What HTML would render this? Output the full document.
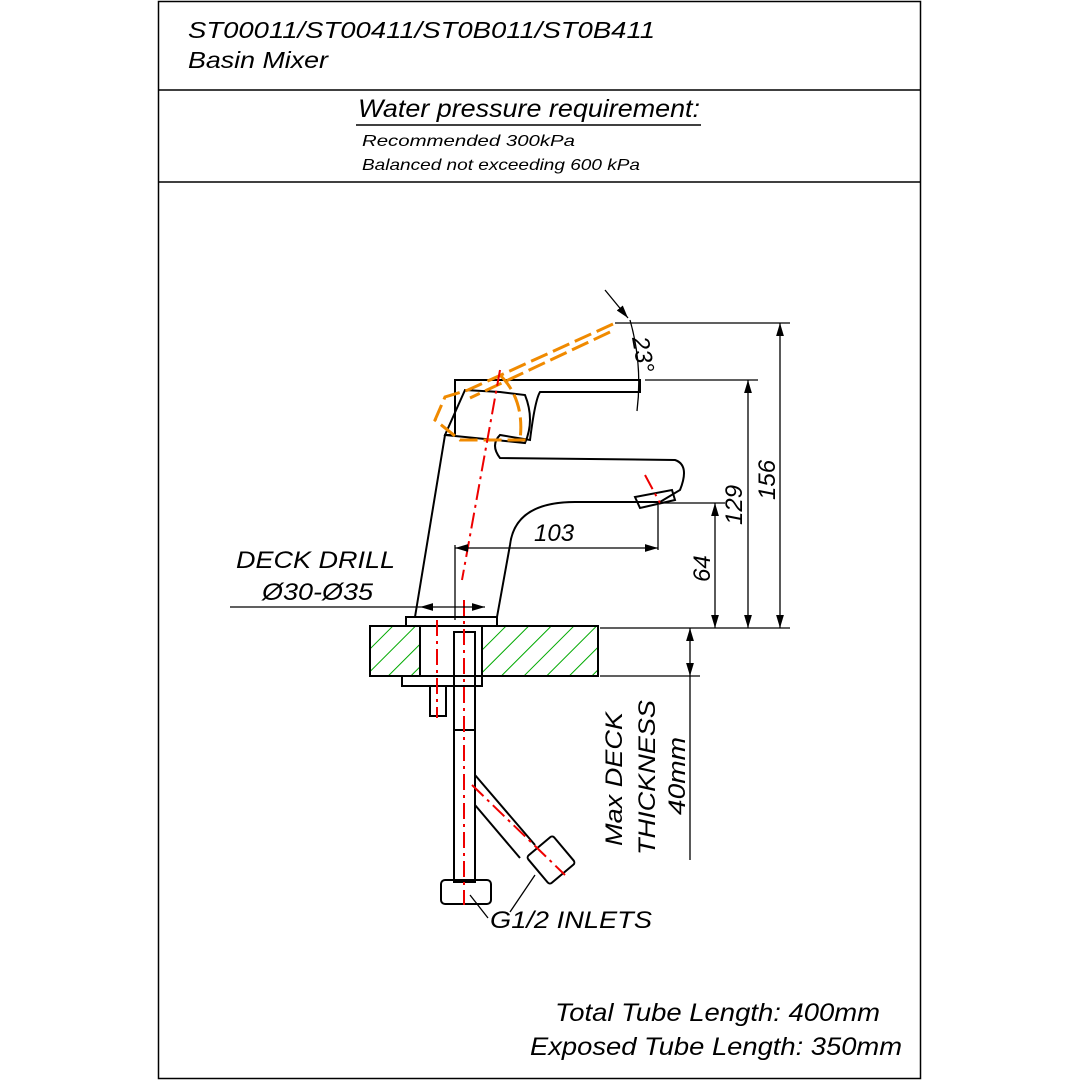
<!DOCTYPE html>
<html><head><style>body{margin:0;background:#fff}svg{display:block}text{font-family:"Liberation Sans",sans-serif;font-style:italic;fill:#000}</style></head><body>
<svg width="1080" height="1080" viewBox="0 0 1080 1080" xmlns="http://www.w3.org/2000/svg">
<defs>
<pattern id="h" width="16" height="16" patternUnits="userSpaceOnUse" patternTransform="rotate(45)"><line x1="0" y1="0" x2="0" y2="16" stroke="#0a0" stroke-width="2"/></pattern>
<marker id="a" markerWidth="10" markerHeight="6" refX="10" refY="3" orient="auto-start-reverse"><path d="M0,0L10,3L0,6z" fill="#000"/></marker>
</defs>
<rect x="158.5" y="1.5" width="762" height="1077" fill="none" stroke="#000" stroke-width="1.5"/>
<line x1="158" y1="90" x2="921" y2="90" stroke="#000" stroke-width="1.5"/>
<line x1="158" y1="182" x2="921" y2="182" stroke="#000" stroke-width="1.5"/>
<text x="188" y="38" font-size="23" textLength="467" lengthAdjust="spacingAndGlyphs">ST00011/ST00411/ST0B011/ST0B411</text>
<text x="188" y="68" font-size="23" textLength="140" lengthAdjust="spacingAndGlyphs">Basin Mixer</text>
<text x="358" y="117" font-size="25" textLength="342" lengthAdjust="spacingAndGlyphs">Water pressure requirement:</text>
<line x1="356" y1="125" x2="701" y2="125" stroke="#000" stroke-width="1.5"/>
<text x="362" y="146" font-size="16" textLength="213" lengthAdjust="spacingAndGlyphs">Recommended 300kPa</text>
<text x="362" y="170" font-size="16" textLength="278" lengthAdjust="spacingAndGlyphs">Balanced not exceeding 600 kPa</text>
<g fill="none" stroke="#000" stroke-width="2">
<rect x="370" y="626" width="228" height="50" fill="url(#h)"/>
<rect x="420" y="626" width="62" height="50" fill="#fff" stroke="none"/>
<line x1="420" y1="626" x2="420" y2="676"/><line x1="482" y1="626" x2="482" y2="676"/>
<rect x="406" y="617" width="91" height="9" fill="#fff"/>
<path d="M415,617 L445,435 L455,435 L455,380 L640,380 L640,392 L540,392 Q535,400 530,440 L500,435 Q490,445 500,458 L675,460 Q690,465 680,490 L660,502 L575,502 Q515,502 510,545 L497,617"/>
<path d="M445,435 L525,443 Q535,420 525,395 L500,392 L465,390 Z"/>
<path d="M635,497 L672,490 L675,500 L640,508 Z"/>
<rect x="454" y="632" width="21" height="250"/>
<rect x="441" y="880" width="50" height="24" rx="4"/>
<line x1="454" y1="730" x2="475" y2="730"/>
<path d="M475,775 L535,845 M475,805 L520,858"/>
<rect x="534" y="842" width="34" height="36" rx="3" transform="rotate(-40 551 860)"/>
<path d="M402,676 L482,676 L482,686 L402,686 Z"/>
<rect x="430" y="686" width="16" height="30"/>
</g>
<g fill="none" stroke="#f08a00" stroke-width="3" stroke-dasharray="18,6">
<path d="M613,324 L468,390 L445,397 L435,420 L460,440 L530,440"/>
<path d="M610,332 L470,398"/>
<path d="M500,375 Q525,400 520,440"/>
</g>
<g stroke="#e00" stroke-width="2" stroke-dasharray="16,5,3,5" fill="none">
<line x1="500" y1="370" x2="462" y2="580"/>
<line x1="464" y1="600" x2="464" y2="905"/>
<line x1="437" y1="620" x2="437" y2="718"/>
<line x1="472" y1="785" x2="565" y2="875"/>
<line x1="645" y1="475" x2="660" y2="503"/>
</g>
<g stroke="#000" stroke-width="1.3" fill="none">
<line x1="615" y1="323" x2="790" y2="323"/>
<line x1="645" y1="380" x2="758" y2="380"/>
<line x1="660" y1="503" x2="725" y2="503"/>
<line x1="600" y1="628" x2="790" y2="628"/>
<line x1="780" y1="323" x2="780" y2="628" marker-start="url(#a)" marker-end="url(#a)"/>
<line x1="748" y1="380" x2="748" y2="628" marker-start="url(#a)" marker-end="url(#a)"/>
<line x1="715" y1="503" x2="715" y2="628" marker-start="url(#a)" marker-end="url(#a)"/>
<line x1="455" y1="545" x2="455" y2="620"/>
<line x1="658" y1="505" x2="658" y2="550"/>
<line x1="455" y1="548" x2="658" y2="548" marker-start="url(#a)" marker-end="url(#a)"/>
<line x1="230" y1="607" x2="420" y2="607"/>
<line x1="420" y1="607" x2="485" y2="607" marker-start="url(#a)" marker-end="url(#a)"/>
<line x1="600" y1="676" x2="700" y2="676"/>
<line x1="690" y1="628" x2="690" y2="676" marker-start="url(#a)" marker-end="url(#a)"/>
<line x1="690" y1="676" x2="690" y2="860"/>
<path d="M637,411 A230,230 0 0 0 630,320"/>
<line x1="605" y1="290" x2="628" y2="318" marker-end="url(#a)"/>
<line x1="488" y1="918" x2="470" y2="895"/>
<line x1="510" y1="912" x2="535" y2="875"/>
</g>
<text font-size="24" transform="translate(632,338) rotate(80)">23°</text>
<text font-size="24" transform="translate(775,500) rotate(-90)">156</text>
<text font-size="24" transform="translate(742,525) rotate(-90)">129</text>
<text font-size="24" transform="translate(710,582) rotate(-90)">64</text>
<text x="534" y="541" font-size="24">103</text>
<text x="236" y="568" font-size="24" textLength="159" lengthAdjust="spacingAndGlyphs">DECK DRILL</text>
<text x="262" y="600" font-size="24" textLength="111" lengthAdjust="spacingAndGlyphs">Ø30-Ø35</text>
<text font-size="24" transform="translate(622,846) rotate(-90)" textLength="134" lengthAdjust="spacingAndGlyphs">Max DECK</text>
<text font-size="24" transform="translate(655,855) rotate(-90)" textLength="155" lengthAdjust="spacingAndGlyphs">THICKNESS</text>
<text font-size="24" transform="translate(685,815) rotate(-90)" textLength="78" lengthAdjust="spacingAndGlyphs">40mm</text>
<text x="490" y="928" font-size="24" textLength="162" lengthAdjust="spacingAndGlyphs">G1/2 INLETS</text>
<text x="555" y="1021" font-size="25" textLength="325" lengthAdjust="spacingAndGlyphs">Total Tube Length: 400mm</text>
<text x="530" y="1055" font-size="25" textLength="372" lengthAdjust="spacingAndGlyphs">Exposed Tube Length: 350mm</text>
</svg>
</body></html>
